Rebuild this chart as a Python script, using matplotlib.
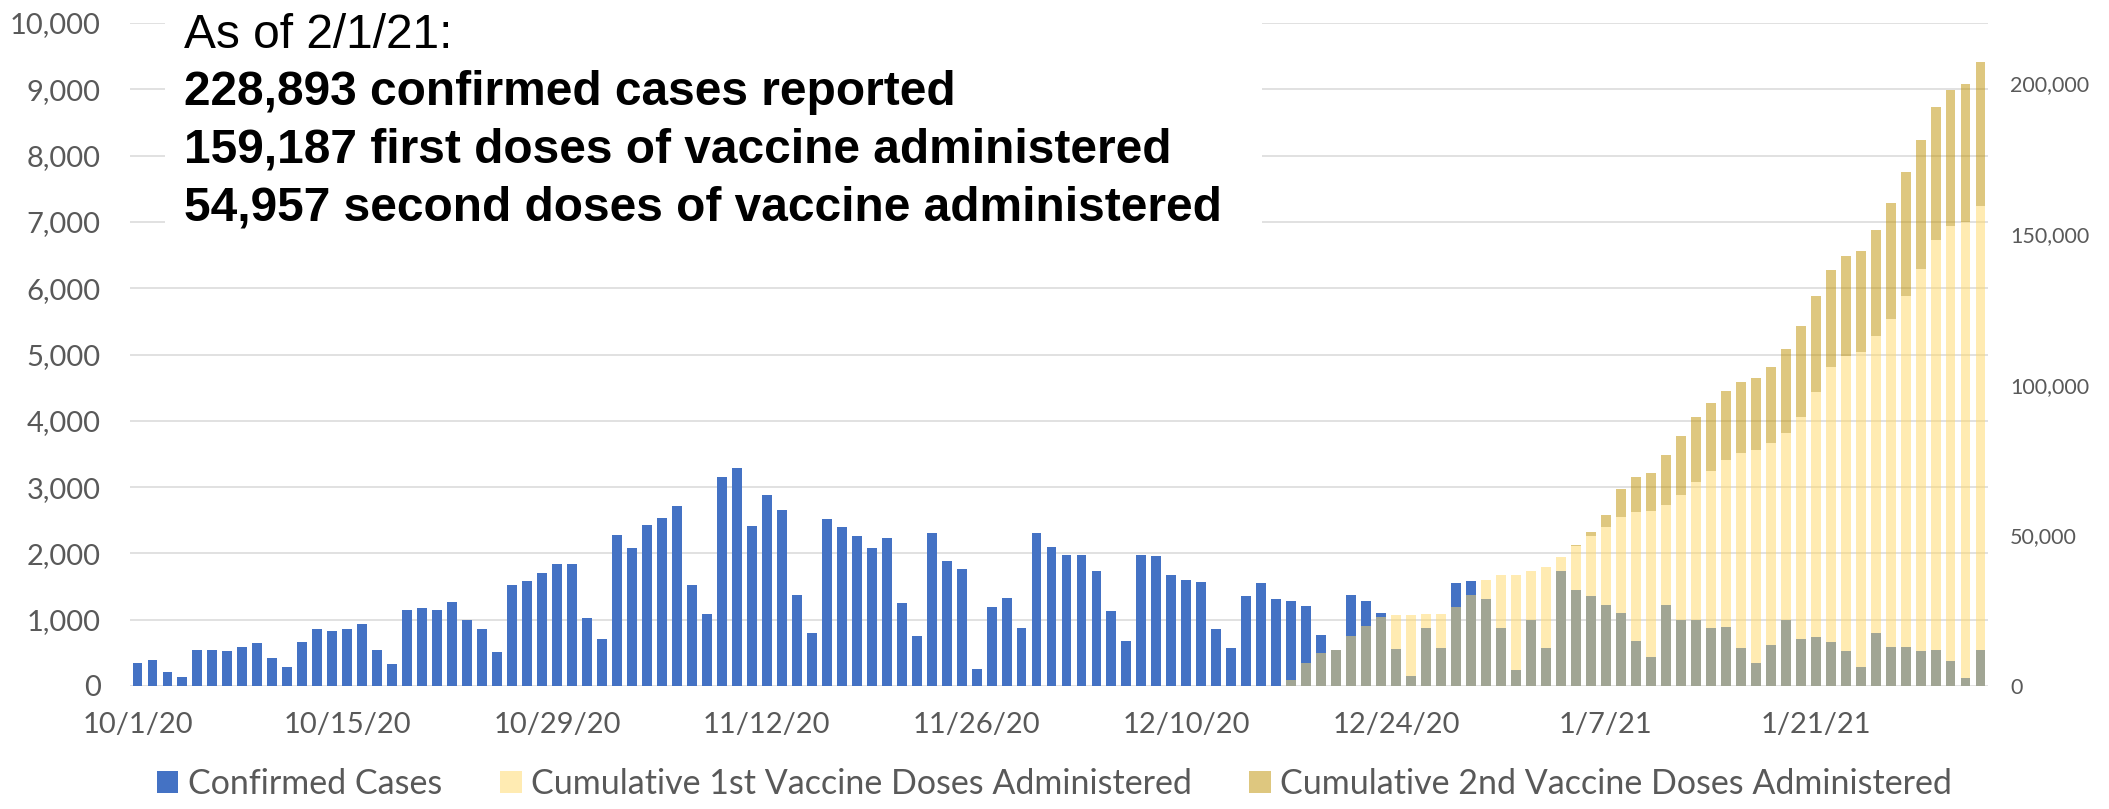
import matplotlib
matplotlib.use('Agg')
import matplotlib.pyplot as plt
import numpy as np
import pandas as pd
from matplotlib.patches import Rectangle
from matplotlib.ticker import FuncFormatter

# daily confirmed cases, 10/1/20 .. 2/1/21
start = '2020-10-01'
cases = [352, 392, 216, 141, 543, 543, 528, 583, 648, 417, 281, 658, 864, 834,
         854, 940, 538, 327, 1151, 1171, 1151, 1261, 995, 859, 513, 1528, 1583, 1698,
         1844, 1834, 1020, 704, 2276, 2075, 2432, 2538, 2709, 1528, 1090, 3146, 3281, 2412,
         2874, 2648, 1372, 804, 2523, 2402, 2266, 2085, 2236, 1256, 759, 2312, 1889, 1769,
         251, 1186, 1332, 869, 2302, 2095, 1970, 1975, 1739, 1133, 682, 1970, 1960, 1669,
         1594, 1574, 862, 576, 1363, 1549, 1313, 1278, 1203, 767, 550, 1373, 1278, 1103,
         561, 145, 882, 566, 1559, 1589, 1318, 877, 241, 1003, 576, 1732, 1453, 1352,
         1225, 1104, 679, 438, 1218, 990, 996, 882, 888, 577, 349, 622, 996, 711,
         736, 666, 527, 286, 793, 584, 590, 527, 539, 381, 121, 539]

# cumulative vaccine doses, 12/17/20 .. 2/1/21
vacc_start = '2020-12-17'
first_doses = [1870, 7610, 11020, 12010, 16430, 20060, 22840, 23610, 23610, 24050,
               24050, 26360, 30210, 35070, 36940, 36940, 38260, 39470, 42860,
               46420, 49830, 52620, 56120, 57660, 58210, 60170, 63510, 67690, 71480,
               75110, 77480, 78170, 80540, 84040, 89210, 97570, 105820, 109580, 110970,
               116140, 121730, 129540, 138470, 147970, 152570, 153980, 159187]
second_doses = [0, 0, 0, 0, 0, 0, 0, 0, 0, 0, 0, 0, 0, 0, 0, 0, 0, 0, 0,
                350, 1120, 4200, 9350, 11730, 12430, 16320, 19400, 21650, 22460,
                22750, 23300, 24020, 25410, 27630, 30140, 31970, 32380, 33220, 33370,
                35330, 38520, 41050, 42720, 44110, 45360, 45910, 47800]

text_lines = ['As of 2/1/21:',
              '228,893 confirmed cases reported',
              '159,187 first doses of vaccine administered',
              '54,957 second doses of vaccine administered']

BLUE = '#4472C4'
YELLOW = '#FFD966'
TAN = '#BF9000'
GRID = '#D9D9D9'
LABEL = '#595959'

plt.rcParams['font.family'] = ['Lato', 'DejaVu Sans']

days = pd.date_range(start, periods=len(cases), freq='D')
x = np.arange(len(cases))
offset = (pd.Timestamp(vacc_start) - pd.Timestamp(start)).days
vx = np.arange(len(first_doses)) + offset

W, H = 2109, 809
fig = plt.figure(figsize=(W / 100, H / 100), dpi=100)
ax = fig.add_axes([130 / W, 1 - 686 / H, (1988 - 130) / W, (686 - 23) / H])
ax2 = ax.twinx()

bw = 0.66
b_cases = ax.bar(x, cases, width=bw, color=BLUE, zorder=2)
b_first = ax2.bar(vx, first_doses, width=bw, color=YELLOW, alpha=0.5)
b_second = ax2.bar(vx, second_doses, width=bw, bottom=first_doses, color=TAN, alpha=0.5)

ax.set_xlim(-0.5, len(cases) - 0.5)
ax.set_ylim(0, 10000)
ax.set_yticks(np.arange(0, 10001, 1000))
ax.yaxis.set_major_formatter(FuncFormatter(lambda v, p: f'{int(v):,}'))
ax.grid(axis='y', color=GRID, linewidth=1.1)
ax.set_axisbelow(True)

ax2.set_ylim(0, 220000)
ax2.set_yticks(np.arange(0, 200001, 50000))
ax2.yaxis.set_major_formatter(FuncFormatter(lambda v, p: f'{int(v):,}'))

tick_pos = x[::14]
ax.set_xticks(tick_pos)
ax.set_xticklabels([f'{d.month}/{d.day}/{d.year % 100}' for d in days[::14]])

for a in (ax, ax2):
    for s in a.spines.values():
        s.set_visible(False)
ax.tick_params(axis='x', length=0, pad=19, labelsize=21, colors=LABEL)
ax.tick_params(axis='y', length=0, pad=21, labelsize=21, colors=LABEL)
ax2.tick_params(axis='y', length=0, pad=16, labelsize=15.5, colors=LABEL)

# white text box over the top-left of the plot
fig.add_artist(Rectangle((165 / W, 1 - 255 / H), (1262 - 165) / W, 255 / H,
                         transform=fig.transFigure, facecolor='white', edgecolor='none', zorder=1))
baselines = [48, 105, 163, 220]
for i, (line, yb) in enumerate(zip(text_lines, baselines)):
    fig.text(184 / W, 1 - yb / H, line, fontsize=34.5, family='Liberation Sans',
             fontweight='normal' if i == 0 else 'bold', va='baseline', ha='left', zorder=3)

fig.legend([b_cases, b_first, b_second],
           ['Confirmed Cases', 'Cumulative 1st Vaccine Doses Administered',
            'Cumulative 2nd Vaccine Doses Administered'],
           loc='center', bbox_to_anchor=(0.5, 1 - 784 / H), ncol=3, frameon=False,
           fontsize=24.5, labelcolor=LABEL, handlelength=0.64, handleheight=0.64,
           handletextpad=0.27, columnspacing=1.7)

fig.savefig('out.png', dpi=100)
